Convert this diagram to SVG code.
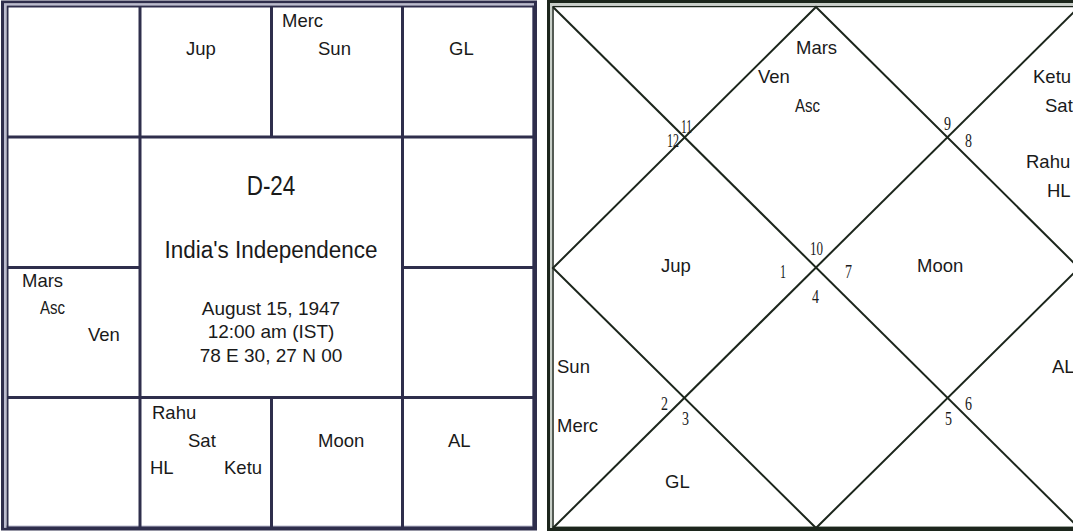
<svg xmlns="http://www.w3.org/2000/svg" width="1073" height="531" viewBox="0 0 1073 531">
<style>
.bg{fill:#ffffff}
.lf{fill:none;stroke:#2f2e4c}
.lb{fill:none;stroke:#bcbccf}
.lg{stroke:#2f2e4c;stroke-width:3;fill:none}
.rf{fill:none;stroke:#1c261c}
.rb{fill:none;stroke:#c9d0c9}
.rl{stroke:#1c261c;stroke-width:2;fill:none}
.t{font-family:"Liberation Sans",Arial,sans-serif;font-size:18.5px;fill:#1a1a1a}
.c{font-family:"Liberation Sans",Arial,sans-serif;font-size:19px;fill:#1a1a1a;text-anchor:middle}
.h{font-family:"Liberation Sans",Arial,sans-serif;font-size:22.5px;fill:#1a1a1a;text-anchor:middle}
.n{font-family:"Liberation Serif","Times New Roman",serif;font-size:18px;fill:#1a1a1a}
</style>
<rect class="bg" x="0" y="0" width="1073" height="531"/>

<!-- Left (South Indian) chart frame and grid -->
<g id="left-frame">
  <rect class="lf" x="2.5" y="2" width="533" height="527" stroke-width="3"/>
  <rect class="lb" x="5" y="4.5" width="528" height="522" stroke-width="2"/>
  <rect class="lf" x="7.5" y="6.5" width="526" height="521" stroke-width="2"/>
</g>
<g id="left-grid">
  <line class="lg" x1="140" y1="6.5" x2="140" y2="137"/>
  <line class="lg" x1="271.5" y1="6.5" x2="271.5" y2="137"/>
  <line class="lg" x1="402.5" y1="6.5" x2="402.5" y2="137"/>
  <line class="lg" x1="140" y1="397.5" x2="140" y2="527.5"/>
  <line class="lg" x1="271.5" y1="397.5" x2="271.5" y2="527.5"/>
  <line class="lg" x1="402.5" y1="397.5" x2="402.5" y2="527.5"/>
  <line class="lg" x1="140" y1="137" x2="140" y2="397.5"/>
  <line class="lg" x1="402.5" y1="137" x2="402.5" y2="397.5"/>
  <line class="lg" x1="7.5" y1="137" x2="533.5" y2="137"/>
  <line class="lg" x1="7.5" y1="397.5" x2="533.5" y2="397.5"/>
  <line class="lg" x1="7.5" y1="267.5" x2="140" y2="267.5"/>
  <line class="lg" x1="402.5" y1="267.5" x2="533.5" y2="267.5"/>
</g>

<g id="l-cell-jup"><text class="t" x="186" y="55">Jup</text></g>
<g id="l-cell-merc-sun"><text class="t" x="282" y="27">Merc</text><text class="t" x="318" y="55">Sun</text></g>
<g id="l-cell-gl"><text class="t" x="449" y="55">GL</text></g>
<g id="l-cell-mars-asc-ven"><text class="t" x="22" y="287">Mars</text><text class="t" x="40" y="314" textLength="25" lengthAdjust="spacingAndGlyphs">Asc</text><text class="t" x="88" y="341">Ven</text></g>
<g id="l-center">
  <text class="h" transform="translate(271 195) scale(1 1.25)">D-24</text>
  <text class="h" transform="translate(271 258) scale(1 1.1)">India's Independence</text>
  <text class="c" x="271" y="315">August 15, 1947</text>
  <text class="c" x="271" y="338">12:00 am (IST)</text>
  <text class="c" x="271" y="362">78 E 30, 27 N 00</text>
</g>
<g id="l-cell-rahu-sat-hl-ketu"><text class="t" x="152" y="419">Rahu</text><text class="t" x="188" y="447">Sat</text><text class="t" x="150" y="474">HL</text><text class="t" x="224" y="474">Ketu</text></g>
<g id="l-cell-moon"><text class="t" x="318" y="447">Moon</text></g>
<g id="l-cell-al"><text class="t" x="448" y="447">AL</text></g>

<!-- Right (North Indian) chart -->
<g id="right-frame">
  <rect class="rf" x="548.5" y="1.5" width="540" height="528" stroke-width="3"/>
  <rect class="rb" x="551" y="4" width="535" height="523" stroke-width="2"/>
  <rect class="rf" x="553" y="6.5" width="528" height="521" stroke-width="1.5"/>
</g>
<g id="connectors">
  <line class="rl" x1="553" y1="7" x2="1079" y2="528"/>
  <line class="rl" x1="1079" y1="7" x2="553" y2="528"/>
  <polygon class="rl" points="816,7 1079,268 816,528 553,268"/>
</g>

<g id="house-10"><text class="n" x="810" y="255" textLength="13" lengthAdjust="spacingAndGlyphs">10</text><text class="t" x="796" y="54">Mars</text><text class="t" x="758" y="83">Ven</text><text class="t" x="795" y="112" textLength="25" lengthAdjust="spacingAndGlyphs">Asc</text></g>
<g id="house-11"><text class="n" x="681" y="133" textLength="11" lengthAdjust="spacingAndGlyphs">11</text></g>
<g id="house-12"><text class="n" x="667" y="147" textLength="12" lengthAdjust="spacingAndGlyphs">12</text></g>
<g id="house-1"><text class="n" x="780" y="278" textLength="6" lengthAdjust="spacingAndGlyphs">1</text><text class="t" x="661" y="272">Jup</text></g>
<g id="house-2"><text class="n" x="661" y="410" textLength="7" lengthAdjust="spacingAndGlyphs">2</text><text class="t" x="557" y="373">Sun</text><text class="t" x="557" y="432">Merc</text></g>
<g id="house-3"><text class="n" x="682" y="425" textLength="7" lengthAdjust="spacingAndGlyphs">3</text><text class="t" x="665" y="488">GL</text></g>
<g id="house-4"><text class="n" x="812" y="303" textLength="7" lengthAdjust="spacingAndGlyphs">4</text></g>
<g id="house-5"><text class="n" x="945" y="425" textLength="7" lengthAdjust="spacingAndGlyphs">5</text></g>
<g id="house-6"><text class="n" x="965" y="410" textLength="7" lengthAdjust="spacingAndGlyphs">6</text><text class="t" x="1052" y="373">AL</text></g>
<g id="house-7"><text class="n" x="845" y="278" textLength="7" lengthAdjust="spacingAndGlyphs">7</text><text class="t" x="917" y="272">Moon</text></g>
<g id="house-8"><text class="n" x="965" y="147" textLength="7" lengthAdjust="spacingAndGlyphs">8</text><text class="t" x="1033" y="83">Ketu</text><text class="t" x="1045" y="112">Sat</text><text class="t" x="1026" y="168">Rahu</text><text class="t" x="1047" y="197">HL</text></g>
<g id="house-9"><text class="n" x="944" y="130" textLength="7" lengthAdjust="spacingAndGlyphs">9</text></g>
</svg>
